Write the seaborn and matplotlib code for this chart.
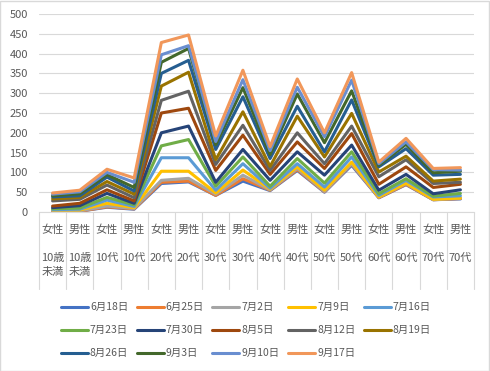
import numpy as np
import pandas as pd
import matplotlib
matplotlib.use("Agg")
import matplotlib.pyplot as plt
import matplotlib.transforms as mtransforms
from matplotlib.patches import Rectangle
import seaborn as sns

# ---------------------------------------------------------------
# Data
# ---------------------------------------------------------------
sexes = ["女性", "男性"] * 8
ages = ["10歳\n未満", "10歳\n未満", "10代", "10代", "20代", "20代", "30代", "30代",
        "40代", "40代", "50代", "50代", "60代", "60代", "70代", "70代"]

dates = ["6月18日", "6月25日", "7月2日", "7月9日", "7月16日", "7月23日", "7月30日",
         "8月5日", "8月12日", "8月19日", "8月26日", "9月3日", "9月10日", "9月17日"]

v_0618 = [3, 2, 12, 7, 72, 76, 42, 78, 54, 105, 50, 118, 36, 69, 31, 33]
v_0625 = [3, 2, 13, 8, 75, 78, 42, 84, 55, 107, 51, 121, 36, 70, 31, 34]
v_0702 = [4, 3, 15, 9, 80, 85, 45, 93, 56, 110, 52, 122, 37, 72, 31, 35]
v_0709 = [5, 5, 22, 11, 103, 103, 48, 106, 58, 114, 55, 126, 38, 73, 32, 35]
v_0716 = [6, 7, 30, 14, 137, 137, 55, 122, 60, 122, 63, 139, 42, 80, 38, 41]
v_0723 = [8, 10, 37, 18, 167, 183, 65, 139, 65, 135, 73, 152, 46, 84, 40, 47]
v_0730 = [11, 16, 47, 22, 200, 217, 75, 158, 80, 152, 93, 169, 55, 95, 46, 56]
v_0805 = [15, 22, 56, 28, 250, 262, 105, 194, 95, 177, 110, 198, 70, 114, 62, 70]
v_0812 = [28, 32, 68, 36, 282, 305, 120, 219, 105, 200, 122, 217, 89, 132, 72, 75]
v_0819 = [33, 37, 77, 45, 318, 353, 132, 253, 115, 242, 139, 249, 101, 141, 78, 83]
v_0826 = [38, 41, 88, 53, 350, 383, 158, 291, 135, 267, 152, 283, 114, 160, 93, 95]
v_0903 = [41, 46, 94, 62, 378, 413, 170, 314, 145, 298, 175, 306, 118, 171, 99, 103]
v_0910 = [45, 51, 100, 75, 397, 420, 178, 334, 155, 315, 190, 333, 122, 177, 107, 106]
v_0917 = [48, 55, 108, 86, 428, 447, 192, 358, 165, 336, 200, 352, 126, 186, 110, 112]

series = [v_0618, v_0625, v_0702, v_0709, v_0716, v_0723, v_0730,
          v_0805, v_0812, v_0819, v_0826, v_0903, v_0910, v_0917]

# Excel office palette
colors = ["#4472C4", "#ED7D31", "#A5A5A5", "#FFC000", "#5B9BD5", "#70AD47", "#264478",
          "#9E480E", "#636363", "#997300", "#255E91", "#43682B", "#698ED0", "#F1975A"]

TEXT = "#595959"
GRID = "#D9D9D9"

rows = []
for d, vals in zip(dates, series):
    for i, v in enumerate(vals):
        rows.append({"date": d, "pos": i, "value": v})
df = pd.DataFrame(rows)

# ---------------------------------------------------------------
# Style
# ---------------------------------------------------------------
sns.set_theme(style="white")
plt.rcParams["font.family"] = ["Noto Sans CJK JP", "DejaVu Sans"]

fig = plt.figure(figsize=(4.9, 3.71), dpi=100)
fig.patch.set_facecolor("white")
ax = fig.add_axes([39 / 490, 159 / 371, 435 / 490, 198 / 371])

sns.lineplot(data=df, x="pos", y="value", hue="date", hue_order=dates,
             palette=colors, linewidth=2.2, estimator=None, sort=False, ax=ax)

ax.set_xlim(-0.5, 15.5)
ax.set_ylim(0, 500)
ax.set_yticks(np.arange(0, 501, 50))
ax.yaxis.grid(True, color=GRID, linewidth=0.8)
ax.set_axisbelow(True)
for s in ["top", "right", "left"]:
    ax.spines[s].set_visible(False)
ax.spines["bottom"].set_color(GRID)
ax.spines["bottom"].set_linewidth(0.8)
ax.tick_params(axis="y", length=0, labelsize=8, labelcolor=TEXT, pad=8)
ax.set_xticks([])
ax.set_xlabel("")
ax.set_ylabel("")

# category labels and separators
trans = mtransforms.blended_transform_factory(ax.transData, ax.transAxes)
px = 1 / 198
for b in np.arange(-0.5, 16, 1):
    ax.plot([b, b], [0, -77 * px], transform=trans, color=GRID, lw=0.8, clip_on=False)
for i in range(16):
    ax.text(i, -18 * px, sexes[i], transform=trans, ha="center", va="center",
            fontsize=8, color=TEXT)
    ax.text(i, -41 * px, ages[i], transform=trans, ha="center", va="top",
            fontsize=8, color=TEXT, linespacing=1.45)

# legend, row-major order like Excel
handles, labels = ax.get_legend_handles_labels()
ax.get_legend().remove()
order = []
for j in range(5):
    for r in range(3):
        k = r * 5 + j
        if k < len(handles):
            order.append(k)
leg = fig.legend([handles[k] for k in order], [labels[k] for k in order],
                 ncol=5, loc="center", bbox_to_anchor=(0.502, 0.11), frameon=False,
                 fontsize=7.5, handlelength=2.6, handletextpad=0.2, columnspacing=0.8,
                 labelspacing=1.25, labelcolor=TEXT)
for line in leg.get_lines():
    line.set_linewidth(2.2)

fig.add_artist(Rectangle((0.001, 0.001), 0.997, 0.996, transform=fig.transFigure,
                         fill=False, edgecolor=GRID, linewidth=1))

fig.savefig("out.png", dpi=100)
plt.close(fig)
